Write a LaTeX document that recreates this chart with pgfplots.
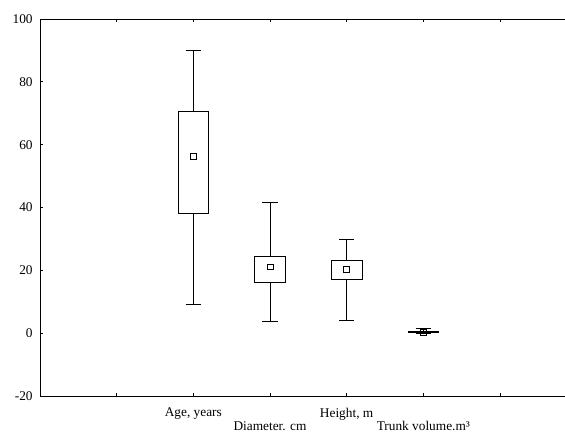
\documentclass[border=0pt]{standalone}
\usepackage{fontspec}
\setmainfont{Liberation Serif}
\usepackage{pgfplots}
\pgfplotsset{compat=1.18}
\usepgfplotslibrary{statistics}
\begin{document}
\begin{tikzpicture}
\path[use as bounding box] (-30pt,-27pt) rectangle (393.75pt,297pt);
\begin{axis}[
  at={(0,0)}, anchor=south west,
  scale only axis,
  width=393.75pt, height=282.75pt,
  xmin=0, xmax=6.848,
  ymin=-20, ymax=100,
  axis x line=box, axis y line=left,
  y axis line style={-},
  x axis line style={-},
  axis line style={black, line width=0.7pt},
  tick align=inside,
  major tick length=2.5pt,
  tick style={black, line width=0.6pt},
  ytick={-20,0,20,40,60,80,100},
  xtick={1,2,3,4,5,6},
  xticklabels={,{Age, years},,{Height, m},,},
  xticklabel style={yshift=-5.5pt},
  extra x ticks={3,5},
  extra x tick labels={{Diameter. cm},{Trunk volume.m³}},
  extra x tick style={major tick length=0pt, xticklabel style={yshift=-10pt}},
  yticklabel style={xshift=-2pt},
  /pgf/number format/assume math mode=true,
  ticklabel style={font=\fontsize{10}{12}\selectfont},
  boxplot/draw direction=y,
  boxplot/box extend=0.4,
  boxplot/whisker extend=0.2,
  boxplot/draw/median/.code={},
  boxplot/every average/.style={/tikz/mark=square, /tikz/mark size=2.2pt, solid, line width=0.6pt},
]
\addplot[black, line width=0.6pt, boxplot prepared={draw position=2,
  lower whisker=9, lower quartile=38.1, median=56.4, average=56.4,
  upper quartile=70.5, upper whisker=90}] coordinates {};
\addplot[black, line width=0.6pt, boxplot prepared={draw position=3,
  lower whisker=3.8, lower quartile=16.1, median=21.1, average=21.1,
  upper quartile=24.3, upper whisker=41.5}] coordinates {};
\addplot[black, line width=0.6pt, boxplot prepared={draw position=4,
  lower whisker=4.0, lower quartile=17.1, median=20.3, average=20.3,
  upper quartile=23.1, upper whisker=29.8}] coordinates {};
\addplot[black, line width=0.6pt, boxplot prepared={draw position=5,
  lower whisker=0.0, lower quartile=0.1, median=0.3, average=0.3,
  upper quartile=0.6, upper whisker=1.5}] coordinates {};
\end{axis}
\end{tikzpicture}
\end{document}
